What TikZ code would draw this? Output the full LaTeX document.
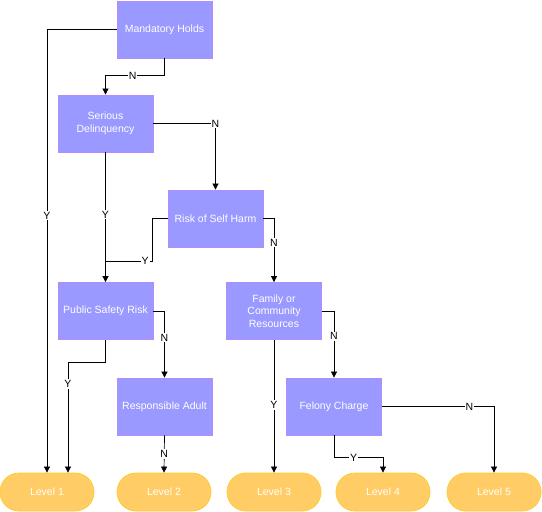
\documentclass[tikz,border=0pt]{standalone}
\usepackage{fontspec}
\setmainfont{Liberation Sans}
\usetikzlibrary{arrows.meta}

\definecolor{boxfill}{HTML}{9999FF}
\definecolor{boxline}{HTML}{B38CFF}
\definecolor{levfill}{HTML}{FFCC66}
\definecolor{levline}{HTML}{FFCC33}

\tikzset{
  decision/.style={draw=boxline, fill=boxfill, text=white, align=center,
    minimum width=95pt, minimum height=57pt, inner sep=1pt, line width=0.8pt},
  level/.style={draw=levline, fill=levfill, text=white, rounded corners=19pt,
    minimum width=94pt, minimum height=38pt, line width=0.8pt},
  flow/.style={-{Triangle[length=6pt,width=6pt]}, line width=0.7pt},
  link/.style={line width=0.7pt},
  lab/.style={fill=white, inner sep=1pt, text=black},
}

\begin{document}
\begin{tikzpicture}[x=1pt,y=-1pt,font=\fontsize{10.5}{12.5}\selectfont]
\useasboundingbox (0,0) rectangle (542,512);

\node[decision] (mh) at (164.5,29.5) {Mandatory Holds};
\node[decision] (sd) at (105.5,123.5) {Serious\\Delinquency};
\node[decision] (rsh) at (215.5,218.5) {Risk of Self Harm};
\node[decision] (psr) at (105.5,311) {Public Safety Risk};
\node[decision] (fcr) at (274,311) {Family or\\Community\\Resources};
\node[decision] (ra) at (164.5,406.5) {Responsible Adult};
\node[decision] (fc) at (334,406.5) {Felony Charge};

\node[level] (l1) at (47,492) {Level 1};
\node[level] (l2) at (164,492) {Level 2};
\node[level] (l3) at (274,492) {Level 3};
\node[level] (l4) at (383,492) {Level 4};
\node[level] (l5) at (494,492) {Level 5};

\draw[flow] (mh.west) -| node[lab,pos=0.71] {Y} (l1.north);
\draw[flow] (mh.south) -- ++(0,17) -| node[lab,pos=0.27] {N} (sd.north);
\draw[flow] (sd.east) -| node[lab,pos=0.5] {N} (rsh.north);
\draw[flow] (sd.south) -- node[lab,pos=0.48] {Y} (psr.north);
\draw[link] (rsh.west) -- ++(-15,0) |- node[lab,pos=0.58] {Y} (sd.south |- 0,261);
\draw[flow] (rsh.east) -| node[lab,pos=0.69] {N} (fcr.north);
\draw[flow] (psr.east) -| node[lab,pos=0.7] {N} (ra.north);
\draw[flow] (psr.south) -- ++(0,22) -| node[lab,pos=0.6] {Y} ([xshift=21pt]l1.north);
\draw[flow] (ra.south) -- node[lab] {N} (l2.north);
\draw[flow] (fcr.east) -| node[lab,pos=0.69] {N} (fc.north);
\draw[flow] (fcr.south) -- node[lab,pos=0.49] {Y} (l3.north);
\draw[flow] (fc.south) -- ++(0,22) -| node[lab,pos=0.2] {Y} (l4.north);
\draw[flow] (fc.east) -| node[lab,pos=0.39] {N} (l5.north);
\end{tikzpicture}
\end{document}
